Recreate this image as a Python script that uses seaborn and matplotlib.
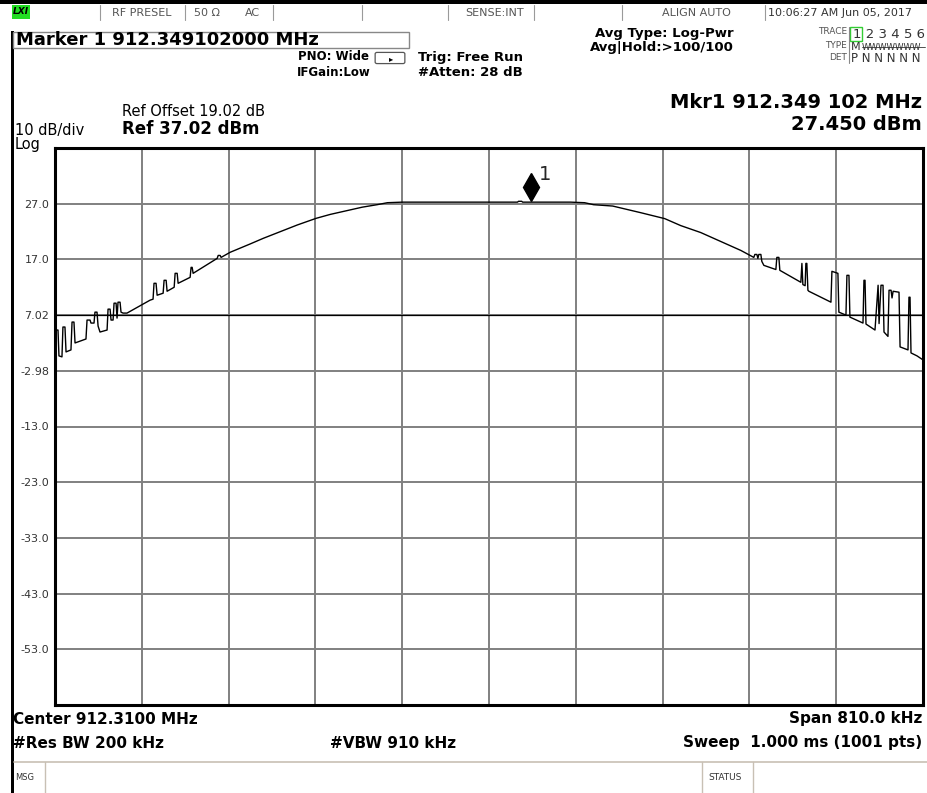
import matplotlib
matplotlib.use("Agg")
import matplotlib.pyplot as plt
import matplotlib.patches as mpatches
import matplotlib.transforms as mtransforms
from matplotlib.lines import Line2D
import pandas as pd
import seaborn as sns

sns.set_style("white")
plt.rcParams.update({
    "font.family": ["DejaVu Sans"],
    "axes.unicode_minus": False,
})

# --- analyzer settings -------------------------------------------------------
CENTER_MHZ = 912.31
SPAN_KHZ = 810.0
REF_LEVEL = 37.02
DB_PER_DIV = 10
N_DIV = 10

MARKER_MHZ = 912.349102
MARKER_DBM = 27.45
DISPLAY_LINE = 7.02

YTICK_LABELS = ["", "27.0", "17.0", "7.02", "-2.98", "-13.0", "-23.0",
                "-33.0", "-43.0", "-53.0", ""]

# --- trace vertices (offset from center in kHz, dBm) -------------------------
left_khz = [-405.0, -402.2, -401.3, -398.5, -397.6, -395.7, -394.7, -390.1, -389.1, -387.3,
            -386.3, -376.1, -375.1, -372.3, -371.4, -368.6, -367.7, -365.8, -364.8, -363.0,
            -356.4, -355.5, -353.6, -352.7, -350.8, -349.9, -348.0, -347.1, -346.2, -344.3,
            -343.4, -341.5, -337.8, -316.3, -313.5, -312.6, -310.7, -309.7, -304.1, -303.2,
            -301.3, -300.4, -293.8, -292.9, -291.0, -290.1, -278.9, -278.0, -277.0, -276.1,
            -253.7, -252.7, -250.9, -250.0]
left_dbm = [4.34, 4.34, -0.30, -0.48, 4.88, 4.88, 0.41, 0.77, 5.77, 5.77,
            2.02, 2.73, 6.13, 6.13, 5.59, 5.59, 7.55, 7.55, 5.05, 3.98,
            4.34, 8.09, 8.09, 6.13, 6.13, 9.16, 9.16, 6.48, 9.34, 9.34,
            7.55, 7.38, 7.38, 9.70, 9.88, 12.73, 12.73, 10.59, 10.95, 13.27,
            13.27, 11.30, 12.02, 14.52, 14.52, 12.73, 13.80, 15.59, 15.59, 14.52,
            17.20, 17.73, 17.73, 17.38]

mid_khz = [-241.5, -222.8, -210.7, -194.8, -178.9, -161.2, -148.1, -132.2, -118.2, -104.2,
           -94.8, -80.8, 26.6, 27.5, 30.5, 31.4, 76.1, 89.2, 97.6, 115.4,
           141.5, 164.0, 178.9, 197.6, 216.3, 235.0, 247.1]
mid_dbm = [18.3, 19.8, 20.8, 22.0, 23.2, 24.4, 25.1, 25.8, 26.4, 26.85,
           27.2, 27.3, 27.3, 27.45, 27.45, 27.3, 27.3, 27.2, 26.84, 26.6,
           25.41, 24.34, 23.09, 21.84, 20.23, 18.63, 17.38]

right_khz = [248.1, 250.0, 250.9, 251.8, 253.7, 254.6, 256.5, 267.7, 268.6, 270.5,
             271.4, 291.0, 292.0, 292.9, 295.0, 295.7, 296.6, 297.6, 298.5, 319.1,
             320.0, 325.6, 326.5, 333.1, 334.0, 335.9, 336.8, 349.0, 349.9, 350.9,
             351.8, 360.2, 363.1, 364.0, 365.8, 367.7, 368.6, 372.3, 373.3, 375.2,
             376.1, 377.1, 382.6, 383.6, 391.0, 391.9, 392.9, 393.8, 399.4, 405.0]
right_dbm = [17.91, 17.91, 17.20, 17.91, 17.91, 16.66, 15.95, 15.20, 17.38, 17.38,
             15.06, 12.91, 16.30, 12.50, 12.30, 16.30, 16.30, 11.48, 11.30, 9.34,
             14.88, 14.52, 7.55, 7.02, 14.16, 14.16, 6.66, 5.59, 13.27, 13.27,
             5.41, 4.34, 12.38, 5.50, 12.38, 12.38, 3.98, 3.20, 11.48, 11.48,
             10.10, 11.30, 11.13, 1.31, 0.77, 10.23, 10.23, 0.23, -0.30, -1.02]

trace = pd.DataFrame({
    "khz": left_khz + mid_khz + right_khz,
    "dbm": left_dbm + mid_dbm + right_dbm,
})

W, H = 927, 793
fig = plt.figure(figsize=(W / 100, H / 100), dpi=100)
fig.patch.set_facecolor("white")


def px_text(x, y, s, size=9, weight="normal", ha="left", color="black", **kw):
    fig.text(x / W, 1 - y / H, s, fontsize=size, fontweight=weight, ha=ha,
             va="center", color=color, **kw)


def px_rect(x0, y0, x1, y1, **kw):
    fig.add_artist(mpatches.Rectangle((x0 / W, 1 - y1 / H), (x1 - x0) / W, (y1 - y0) / H,
                                      transform=fig.transFigure, **kw))


def px_line(x0, y0, x1, y1, **kw):
    fig.add_artist(Line2D([x0 / W, x1 / W], [1 - y0 / H, 1 - y1 / H],
                          transform=fig.transFigure, **kw))


# --- graticule --------------------------------------------------------------
ax = fig.add_axes([55 / W, (H - 705) / H, 868 / W, 557 / H])
sns.lineplot(data=trace, x="khz", y="dbm", sort=False, estimator=None, errorbar=None,
             color="black", lw=1.0, ax=ax, zorder=3)

ax.set_xlim(-SPAN_KHZ / 2, SPAN_KHZ / 2)
ax.set_ylim(REF_LEVEL - DB_PER_DIV * N_DIV, REF_LEVEL)
ax.set_xticks([-SPAN_KHZ / 2 + SPAN_KHZ / N_DIV * i for i in range(N_DIV + 1)])
ax.set_yticks([REF_LEVEL - DB_PER_DIV * i for i in range(N_DIV + 1)])
ax.set_xticklabels([])
ax.set_yticklabels(YTICK_LABELS)
ax.tick_params(length=0, labelsize=8, labelcolor="#333333", pad=4)
ax.grid(True, color="#808080", lw=1.4)
ax.set_xlabel("")
ax.set_ylabel("")
for sp in ax.spines.values():
    sp.set_color("black")
    sp.set_linewidth(2.2)
    sp.set_visible(True)
ax.axhline(DISPLAY_LINE, color="black", lw=0.9, zorder=2)

# marker 1
mk_khz = (MARKER_MHZ - CENTER_MHZ) * 1000
up = mtransforms.offset_copy(ax.transData, fig=fig, x=0, y=10, units="points")
ax.plot([mk_khz], [MARKER_DBM], marker="d", markersize=14, color="black",
        transform=up, clip_on=False, zorder=4)
ax.annotate("1", xy=(mk_khz, MARKER_DBM), xytext=(10, 19.5), textcoords="offset points",
            ha="center", va="center", fontsize=14)

# --- top status bar ---------------------------------------------------------
px_rect(0, 0, W, 4, color="black", lw=0)
px_rect(12, 5, 30, 19, color="#22dd22", lw=0)
px_text(21, 12, "LXI", size=6.5, weight="bold", ha="center", style="italic")
for sx in [100, 185, 273, 362, 448, 534, 622, 765]:
    px_line(sx, 5, sx, 20, color="#9a9a9a", lw=0.8)
sc = "#555555"
px_text(112, 13, "RF PRESEL", size=8, color=sc)
px_text(194, 13, "50 Ω", size=8, color=sc)
px_text(245, 13, "AC", size=8, color=sc)
px_text(465, 13, "SENSE:INT", size=8, color=sc)
px_text(662, 13, "ALIGN AUTO", size=8, color=sc)
px_text(768, 13, "10:06:27 AM Jun 05, 2017", size=8, color="#333333")

# left frame bar
px_rect(11, 31, 14, H, color="black", lw=0)

# marker readout
px_rect(13, 32, 409, 48, fill=False, edgecolor="#888888", lw=1)
px_text(16, 40, "Marker 1 912.349102000 MHz", size=13, weight="bold")

px_text(298, 57, "PNO: Wide", size=8.5, weight="bold")
px_text(297, 72, "IFGain:Low", size=8.5, weight="bold")
fig.add_artist(mpatches.FancyBboxPatch((377 / W, 1 - 62 / H), 26 / W, 8 / H,
                                       boxstyle="round,pad=0.002", fill=False,
                                       edgecolor="#555555", lw=0.9,
                                       transform=fig.transFigure))
px_text(391, 59, "▸", size=6, ha="center")
px_text(418, 57, "Trig: Free Run", size=9.5, weight="bold")
px_text(418, 73, "#Atten: 28 dB", size=9.5, weight="bold")
px_text(595, 34, "Avg Type: Log-Pwr", size=9.5, weight="bold")
px_text(590, 48, "Avg|Hold:>100/100", size=9.5, weight="bold")

# trace table
px_text(847, 32, "TRACE", size=6.5, ha="right", color=sc)
px_text(847, 46, "TYPE", size=6.5, ha="right", color=sc)
px_text(847, 57, "DET", size=6.5, ha="right", color=sc)
px_line(849, 27, 849, 63, color="#888888", lw=0.8)
px_rect(850, 27, 862, 41, fill=False, edgecolor="#33cc33", lw=1)
px_text(853, 34, "1 2 3 4 5 6", size=9.5, color="#333333")
px_text(851, 47, "M", size=8, color="#333333")
px_text(862, 47, "WWWWWWW", size=6.2, color="#333333")
px_line(862, 47, 925, 47, color="#333333", lw=0.6)
px_text(851, 58, "P N N N N N", size=8.5, color="#333333")

# marker value, reference
px_text(922, 102, "Mkr1 912.349 102 MHz", size=14, weight="bold", ha="right")
px_text(922, 125, "27.450 dBm", size=14, weight="bold", ha="right")
px_text(122, 112, "Ref Offset 19.02 dB", size=10.5)
px_text(122, 129, "Ref 37.02 dBm", size=12, weight="bold")
px_text(15, 131, "10 dB/div", size=10.5)
px_text(15, 145, "Log", size=10.5)

# --- bottom annotations -----------------------------------------------------
px_text(13, 719, "Center 912.3100 MHz", size=11, weight="bold")
px_text(922, 719, "Span 810.0 kHz", size=11, weight="bold", ha="right")
px_text(13, 743, "#Res BW 200 kHz", size=11, weight="bold")
px_text(330, 743, "#VBW 910 kHz", size=11, weight="bold")
px_text(922, 743, "Sweep  1.000 ms (1001 pts)", size=11, weight="bold", ha="right")

px_line(14, 762, W, 762, color="#c8c0b4", lw=1.2)
for sx in [45, 702, 753]:
    px_line(sx, 762, sx, H, color="#c8c0b4", lw=1.0)
px_text(15, 777, "MSG", size=6, color="#333333")
px_text(708, 777, "STATUS", size=6.5, color="#333333")

fig.savefig("out.png", dpi=100)
